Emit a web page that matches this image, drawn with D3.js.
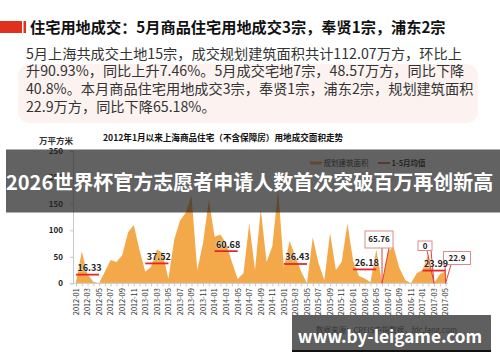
<!DOCTYPE html>
<html>
<head>
<meta charset="utf-8">
<script src="https://cdn.jsdelivr.net/npm/d3@7"></script>
<style>
  body { margin: 0; background: #fff; }
  svg text { font-family: "Noto Sans CJK SC", "Noto Sans", sans-serif; }
</style>
</head>
<body>
<div id="chart"></div>
<script>
var width = 500,
  height = 362;

// categories: 2012-01 .. 2017-05
var months = [];
[2012, 2013, 2014, 2015, 2016, 2017].forEach(function(yr) {
  for (var m = 1; m <= 12; m++) {
    if (yr === 2017 && m > 5) break;
    months.push(yr + "-" + (m < 10 ? "0" + m : m));
  }
});

// 规划建筑面积 (万平方米)
var areaValues = [
  2, 60, 17, 3, 0, 22, 44, 40, 53, 96, 110, 63,
  22, 31, 64, 57, 8, 82, 118, 133, 165, 25, 76, 158,
  88, 92, 75, 40, 8, 19, 113, 25, 140, 40, 70, 178,
  30, 80, 50, 22, 0, 87, 38, 6, 95, 25, 40, 113,
  42, 14, 9, 2, 64, 0, 60, 68, 29, 6, 0, 19,
  25, 55, 0, 17, 22.9
];

// 1-5月均值 per year
var avgYears = ["2012", "2013", "2014", "2015", "2016", "2017"];
var avgValues = [16.33, 37.52, 60.68, 36.43, 26.18, 23.99];

// callout labels
var calloutLabels = ["65.76", "0", "22.9"];
var calloutMonths = ["2016-06", "2017-03", "2017-05"];

var yTicks = [0, 50, 100, 150, 200, 250];

var headText = [
  "5月上海共成交土地15宗，成交规划建筑面积共计112.07万方，环比上",
  "升90.93%，同比上升7.46%。5月成交宅地7宗，48.57万方，同比下降",
  "40.8%。本月商品住宅用地成交3宗，奉贤1宗，浦东2宗，规划建筑面积",
  "22.9万方，同比下降65.18%。"
];

var orange = "#F3A94A";

var svg = d3.select("#chart").append("svg")
  .attr("width", width)
  .attr("height", height);

// ---- header ----
svg.append("rect").attr("x", 0).attr("y", 21).attr("width", 22).attr("height", 12).attr("fill", "#e0301e");
svg.append("rect").attr("x", 23.5).attr("y", 21).attr("width", 2.5).attr("height", 12).attr("fill", "#e0301e");
svg.append("text")
  .attr("x", 30).attr("y", 32.5)
  .attr("font-size", 15.2).attr("font-weight", "bold").attr("fill", "#111")
  .text("住宅用地成交：5月商品住宅用地成交3宗，奉贤1宗，浦东2宗");

svg.append("rect")
  .attr("x", 18).attr("y", 64).attr("width", 460).attr("height", 59).attr("rx", 12)
  .attr("fill", "#fcf3f1");

svg.append("g").selectAll("text")
  .data(headText)
  .enter().append("text")
  .attr("x", 26)
  .attr("y", function(d, i) { return 58.5 + i * 17.8; })
  .attr("font-size", 14.2)
  .attr("fill", "#333")
  .text(function(d) { return d; });

// ---- chart ----
var x = d3.scalePoint()
  .domain(months)
  .range([76, 445.6]);

var y = d3.scaleLinear()
  .domain([0, 250])
  .range([283.3, 150.8]);

svg.append("text")
  .attr("x", 39).attr("y", 143.5)
  .attr("font-size", 8.5).attr("font-weight", "bold").attr("fill", "#333")
  .text("万平方米");

svg.append("text")
  .attr("x", 103).attr("y", 141)
  .attr("font-size", 8.6).attr("font-weight", "bold").attr("fill", "#111")
  .text("2012年1月以来上海商品住宅（不含保障房）用地成交面积走势");

var yAxis = svg.append("g")
  .attr("transform", "translate(73,0)")
  .call(d3.axisLeft(y).tickValues(yTicks).tickSize(3).tickPadding(7));
yAxis.select(".domain").attr("stroke", "#c8c8c8");
yAxis.selectAll(".tick line").attr("stroke", "#c8c8c8");
yAxis.selectAll("text")
  .attr("font-size", 8).attr("font-weight", "bold").attr("fill", "#222")
  .attr("font-family", "'DejaVu Sans', sans-serif");

var area = d3.area()
  .x(function(d, i) { return x(months[i]); })
  .y0(y(0))
  .y1(function(d) { return y(d); });

svg.append("path")
  .datum(areaValues)
  .attr("fill", orange)
  .attr("d", area);

var xAxis = svg.append("g")
  .attr("transform", "translate(0," + y(0) + ")")
  .call(d3.axisBottom(x).tickSize(3).tickPadding(3)
    .tickFormat(function(d, i) { return i % 2 === 0 ? d : ""; }));
xAxis.select(".domain").attr("stroke", "#c8c8c8").attr("d", "M73,0H448");
xAxis.selectAll(".tick line").attr("stroke", "#c8c8c8");
xAxis.selectAll("text")
  .attr("font-size", 7.3).attr("fill", "#333")
  .attr("font-family", "'DejaVu Sans', sans-serif")
  .attr("transform", "rotate(-90)")
  .attr("text-anchor", "end")
  .attr("x", -5).attr("y", 0).attr("dy", "0.32em");

// callouts
var boxes = [
  { x: 365, y: 231, w: 28, h: 17, p0: 382, p1: 389 },
  { x: 418, y: 241, w: 14, h: 9.5, p0: 427, p1: 431 },
  { x: 443.5, y: 251.5, w: 27, h: 13, p0: 445, p1: 451 }
];
calloutLabels.forEach(function(lbl, i) {
  var b = boxes[i];
  var tx = x(calloutMonths[i]), ty = y(0);
  var g = svg.append("g");
  g.append("path")
    .attr("d", "M" + b.p0 + "," + (b.y + b.h) + "L" + tx + "," + ty + "L" + b.p1 + "," + (b.y + b.h))
    .attr("fill", "none").attr("stroke", "#e2403a").attr("stroke-width", 1);
  g.append("rect")
    .attr("x", b.x).attr("y", b.y).attr("width", b.w).attr("height", b.h)
    .attr("fill", "#fff").attr("stroke", "#d98b8b").attr("stroke-width", 1);
  g.append("text")
    .attr("x", b.x + b.w / 2).attr("y", b.y + b.h / 2).attr("dy", "0.35em")
    .attr("text-anchor", "middle")
    .attr("font-size", 8).attr("font-weight", "bold").attr("fill", "#222")
    .attr("font-family", "'DejaVu Sans', sans-serif")
    .text(lbl);
});

// yearly 1-5月均值 lines
var avg = svg.append("g");
avgYears.forEach(function(yr, i) {
  var x0 = x(yr + "-01"), x1 = x(yr + "-05");
  avg.append("line")
    .attr("x1", x0).attr("x2", x1)
    .attr("y1", y(avgValues[i])).attr("y2", y(avgValues[i]))
    .attr("stroke", "#e8262a").attr("stroke-width", 1.8);
  avg.append("text")
    .attr("x", (x0 + x1) / 2 + 2).attr("y", y(avgValues[i]) - 3.5)
    .attr("text-anchor", "middle")
    .attr("font-size", 9).attr("font-weight", "bold").attr("fill", "#222")
    .attr("font-family", "'DejaVu Sans', sans-serif")
    .attr("stroke", "#fff").attr("stroke-width", 0.6).attr("paint-order", "stroke")
    .text(avgValues[i]);
});

// legend
var legend = svg.append("g");
legend.append("rect").attr("x", 310).attr("y", 161.5).attr("width", 12).attr("height", 3).attr("fill", orange);
legend.append("text").attr("x", 323.5).attr("y", 166)
  .attr("font-size", 7.5).attr("fill", "#222").text("规划建筑面积");
legend.append("line").attr("x1", 378).attr("x2", 390).attr("y1", 163).attr("y2", 163)
  .attr("stroke", "#c00000").attr("stroke-width", 1.2);
legend.append("text").attr("x", 391.5).attr("y", 166)
  .attr("font-size", 7.5).attr("font-weight", "bold").attr("fill", "#222").text("1-5月均值");

// source line
svg.append("text")
  .attr("x", 316).attr("y", 333)
  .attr("font-size", 7.5).attr("fill", "#444")
  .text("数据来源：CREIS中指数据，fdc.fang.com");

// ---- overlay banners ----
svg.append("rect")
  .attr("x", 6).attr("y", 149.5).attr("width", 494).attr("height", 63)
  .attr("fill", "rgba(38,38,38,0.72)");
svg.append("text")
  .attr("x", 6).attr("y", 190)
  .attr("font-size", 20).attr("font-weight", "bold").attr("fill", "#fff")
  .text("2026世界杯官方志愿者申请人数首次突破百万再创新高");

svg.append("rect")
  .attr("x", 292).attr("y", 315).attr("width", 199).attr("height", 36)
  .attr("fill", "rgba(50,50,50,0.78)");
svg.append("rect")
  .attr("x", 292).attr("y", 350).attr("width", 199).attr("height", 2)
  .attr("fill", "#111");
svg.append("text")
  .attr("x", 390).attr("y", 342.5)
  .attr("text-anchor", "middle")
  .attr("font-size", 17.2).attr("font-weight", "bold").attr("fill", "#fff")
  .attr("font-family", "'Open Sans', 'DejaVu Sans', sans-serif")
  .text("www.by-leigame.com");
</script>
</body>
</html>
